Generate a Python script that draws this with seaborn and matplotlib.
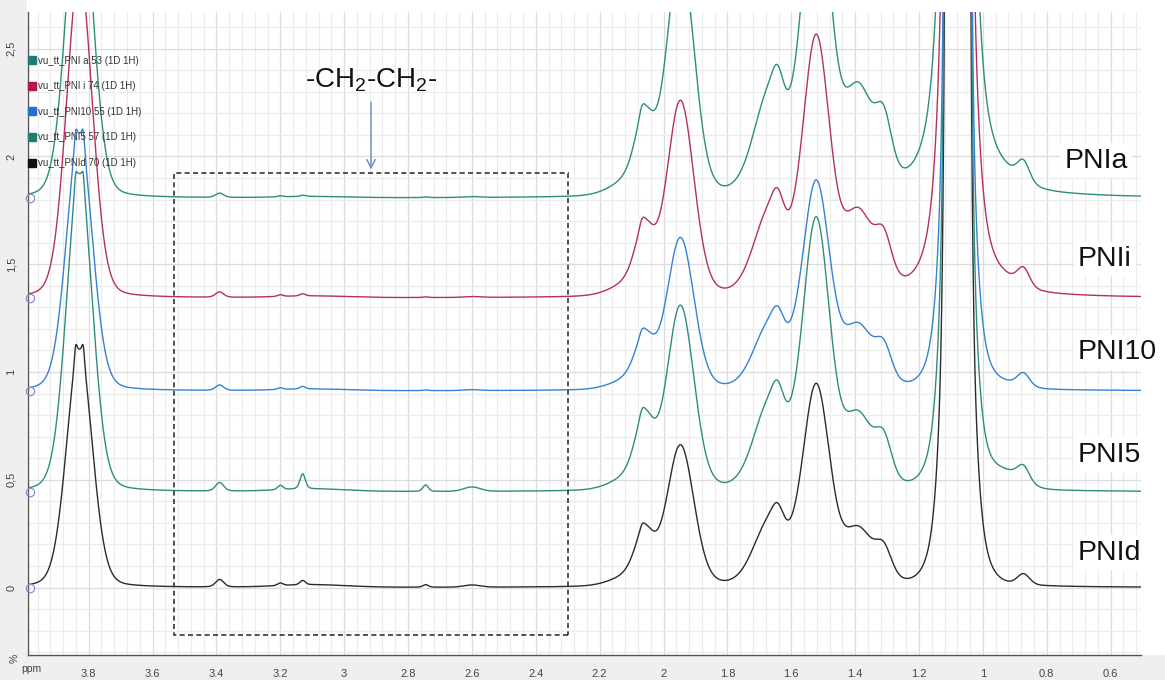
import numpy as np
import pandas as pd
import matplotlib
matplotlib.use("Agg")
import matplotlib.pyplot as plt
import seaborn as sns
from matplotlib.patches import Rectangle
from matplotlib.lines import Line2D
from matplotlib.ticker import MultipleLocator, FuncFormatter

# ---------------- data ----------------
samples = ["PNIa", "PNIi", "PNI10", "PNI5", "PNId"]
legend_names = ["vu_tt_PNI a 53 (1D 1H)", "vu_tt_PNI i 74 (1D 1H)",
                "vu_tt_PNI10 55 (1D 1H)", "vu_tt_PNI5 57 (1D 1H)",
                "vu_tt_PNId 70 (1D 1H)"]
offsets = [1.806, 1.343, 0.912, 0.444, 0.0]

# peak components: position (ppm), full width at half height, lorentzian fraction
peak_ppm = [3.829, 3.841, 3.817, 3.39, 3.20, 3.13, 3.10, 2.745, 2.60,
            2.10, 2.06, 2.068, 1.947, 1.665, 1.642, 1.522, 1.39, 1.31,
            1.079, 1.079, 1.079, 1.079, 0.93, 0.873]
peak_fwhm = [0.095, 0.010, 0.010, 0.030, 0.020, 0.020, 0.25, 0.020, 0.06,
             0.14, 0.07, 0.018, 0.10, 0.12, 0.04, 0.10, 0.11, 0.06,
             0.035, 0.071, 0.118, 0.06, 0.12, 0.045]
peak_lorentz = [0.15, 0.2, 0.2, 0.3, 0.3, 0.3, 0.0, 0.3, 0.0,
                0.0, 0.3, 0.0, 0.15, 0.15, 0.0, 0.15, 0.2, 0.2,
                0.0, 0.0, 0.0, 1.0, 0.0, 0.2]
# peak heights for each sample (same order as peak_ppm)
height_PNIa = [1.52, 0.00, 0.00, 0.020, 0.005, 0.006, 0.006, 0.003, 0.004,
               0.06, 0.31, 0.030, 1.12, 0.47, 0.12, 1.49, 0.46, 0.25,
               60.0, 2.5, 0.5, 3.1, 0.04, 0.09]
height_PNIi = [1.51, 0.00, 0.00, 0.025, 0.008, 0.010, 0.008, 0.003, 0.004,
               0.05, 0.27, 0.025, 0.90, 0.39, 0.10, 1.18, 0.36, 0.19,
               60.0, 2.5, 0.5, 2.2, 0.03, 0.08]
height_PNI10 = [1.19, 0.07, 0.07, 0.025, 0.008, 0.012, 0.008, 0.003, 0.004,
                0.04, 0.21, 0.020, 0.70, 0.30, 0.08, 0.95, 0.28, 0.15,
                60.0, 2.5, 0.5, 0.6, 0.02, 0.06]
height_PNI5 = [1.47, 0.07, 0.07, 0.040, 0.020, 0.070, 0.012, 0.030, 0.020,
               0.05, 0.29, 0.025, 0.85, 0.40, 0.10, 1.24, 0.33, 0.18,
               60.0, 2.5, 0.5, 0.7, 0.07, 0.07]
height_PNId = [1.10, 0.07, 0.07, 0.035, 0.012, 0.020, 0.012, 0.012, 0.010,
               0.04, 0.22, 0.020, 0.65, 0.30, 0.08, 0.92, 0.25, 0.13,
               60.0, 2.5, 0.5, 0.6, 0.00, 0.05]
heights = [height_PNIa, height_PNIi, height_PNI10, height_PNI5, height_PNId]

colors = ["#2f8c80", "#b5305d", "#3482d4", "#2f8c80", "#2b2b2b"]
legend_colors = ["#1f7c70", "#b0174a", "#1f6fd6", "#1f7c70", "#111111"]

x_ticks_major = 0.2
y_ticks_major = 0.5
xlim = (3.99, 0.505)
ylim = (-0.313, 2.67)


def line_shape(x, c, h, w, eta):
    u = (x - c) / w
    return h * ((1 - eta) * np.exp(-4 * np.log(2) * u ** 2) + eta / (1 + 4 * u ** 2))


ppm = np.linspace(xlim[0], xlim[1], 8000)
frames = []
for name, off, hts in zip(samples, offsets, heights):
    y = np.full_like(ppm, off)
    for c, h, w, e in zip(peak_ppm, hts, peak_fwhm, peak_lorentz):
        y = y + line_shape(ppm, c, h, w, e)
    frames.append(pd.DataFrame({"ppm": ppm, "intensity": y, "sample": name}))
df = pd.concat(frames, ignore_index=True)

# ---------------- figure ----------------
sns.set_style("white")
plt.rcParams["font.family"] = ["Liberation Sans", "DejaVu Sans"]
plt.rcParams["mathtext.fontset"] = "custom"
plt.rcParams["mathtext.rm"] = "Liberation Sans"
plt.rcParams["mathtext.it"] = "Liberation Sans"

W, H = 1165, 680
fig = plt.figure(figsize=(W / 100, H / 100), dpi=100, facecolor="white")
fig.add_artist(Rectangle((0, 0), 1, 25 / H, transform=fig.transFigure,
                         facecolor="#efefef", edgecolor="none", zorder=0))
fig.add_artist(Rectangle((0, 0), 27 / W, 1, transform=fig.transFigure,
                         facecolor="#efefef", edgecolor="none", zorder=0))
ax = fig.add_axes([28 / W, 25 / H, (1141 - 28) / W, (655 - 12) / H])
ax.set_facecolor("white")

sns.lineplot(data=df, x="ppm", y="intensity", hue="sample", hue_order=samples[::-1],
             palette=dict(zip(samples, colors)), estimator=None, sort=False,
             linewidth=1.0, legend=False, ax=ax)

ax.set_xlim(*xlim)
ax.set_ylim(*ylim)
ax.set_xlabel("")
ax.set_ylabel("")

ax.xaxis.set_major_locator(MultipleLocator(x_ticks_major))
ax.xaxis.set_minor_locator(MultipleLocator(0.04))
ax.yaxis.set_major_locator(MultipleLocator(y_ticks_major))
ax.yaxis.set_minor_locator(MultipleLocator(0.1))
ax.xaxis.set_major_formatter(FuncFormatter(lambda v, p: f"{v:.1f}".rstrip("0").rstrip(".")))
ax.yaxis.set_major_formatter(FuncFormatter(lambda v, p: f"{v:.1f}".rstrip("0").rstrip(".").replace(".", ",")))

ax.grid(which="minor", color="#ececec", linewidth=0.8)
ax.grid(which="major", color="#dcdcdc", linewidth=0.9)
ax.set_axisbelow(True)

for s in ["top", "right"]:
    ax.spines[s].set_visible(False)
for s in ["left", "bottom"]:
    ax.spines[s].set_color("#555555")
    ax.spines[s].set_linewidth(1.0)

ax.tick_params(axis="x", which="major", length=7, width=0.9, color="#555555",
               labelsize=8, labelcolor="#444444", pad=3)
ax.tick_params(axis="x", which="minor", length=3.5, width=0.8, color="#555555")
ax.tick_params(axis="y", which="major", length=6, width=0.9, color="#555555",
               labelsize=8, labelcolor="#444444", pad=2.5, labelrotation=90)
ax.tick_params(axis="y", which="minor", length=3.5, width=0.8, color="#555555")
for lab in ax.get_yticklabels():
    lab.set_va("center")

# baseline markers at the left edge
ax.plot([xlim[0] - 0.005] * len(offsets), offsets, linestyle="none", marker="o",
        markersize=6, markerfacecolor="none", markeredgecolor="#8d8dd2",
        markeredgewidth=0.9, clip_on=False, zorder=5)

# dashed box around the -CH2-CH2- region
ax.add_patch(Rectangle((2.298, -0.218), 3.534 - 2.298, 1.921 + 0.218, fill=False,
                       linestyle=(0, (3, 2)), linewidth=1.2, edgecolor="#333333", zorder=4))
ax.annotate("", xy=(2.916, 1.926), xytext=(2.916, 2.264),
            arrowprops=dict(arrowstyle="->,head_length=0.6,head_width=0.3",
                            color="#6f93c9", lw=1.1))
ax.text(2.916, 2.319, r"-CH$_2$-CH$_2$-", ha="center", va="baseline",
        fontsize=20, color="#111111")

# sample labels on the right
label_x = [0.745, 0.702, 0.702, 0.702, 0.702]
label_y = [1.981, 1.524, 1.091, 0.616, 0.162]
for name, lx, ly in zip(samples, label_x, label_y):
    ax.text(lx, ly, name, ha="left", va="center", fontsize=20.5, color="#111111",
            bbox=dict(facecolor="white", edgecolor="none", pad=3), zorder=6,
            clip_on=False)

# legend
handles = [Line2D([], [], linestyle="none", marker="s", markersize=6,
                  markerfacecolor=c, markeredgecolor=c) for c in legend_colors]
leg = ax.legend(handles, legend_names, loc="upper left", bbox_to_anchor=(0.001, 0.932),
                frameon=False, fontsize=7, handlelength=0.6, handletextpad=0.35,
                labelspacing=1.6, borderaxespad=0.0, borderpad=0.0)
for t in leg.get_texts():
    t.set_color("#333333")

fig.text(31 / W, 1 - 669 / H, "ppm", fontsize=7.5, color="#444444", ha="center", va="center")
fig.text(15 / W, 1 - 658 / H, "%", fontsize=7.5, color="#444444", ha="center", va="center",
         rotation=90)

fig.savefig("out.png", dpi=100, facecolor=fig.get_facecolor())
